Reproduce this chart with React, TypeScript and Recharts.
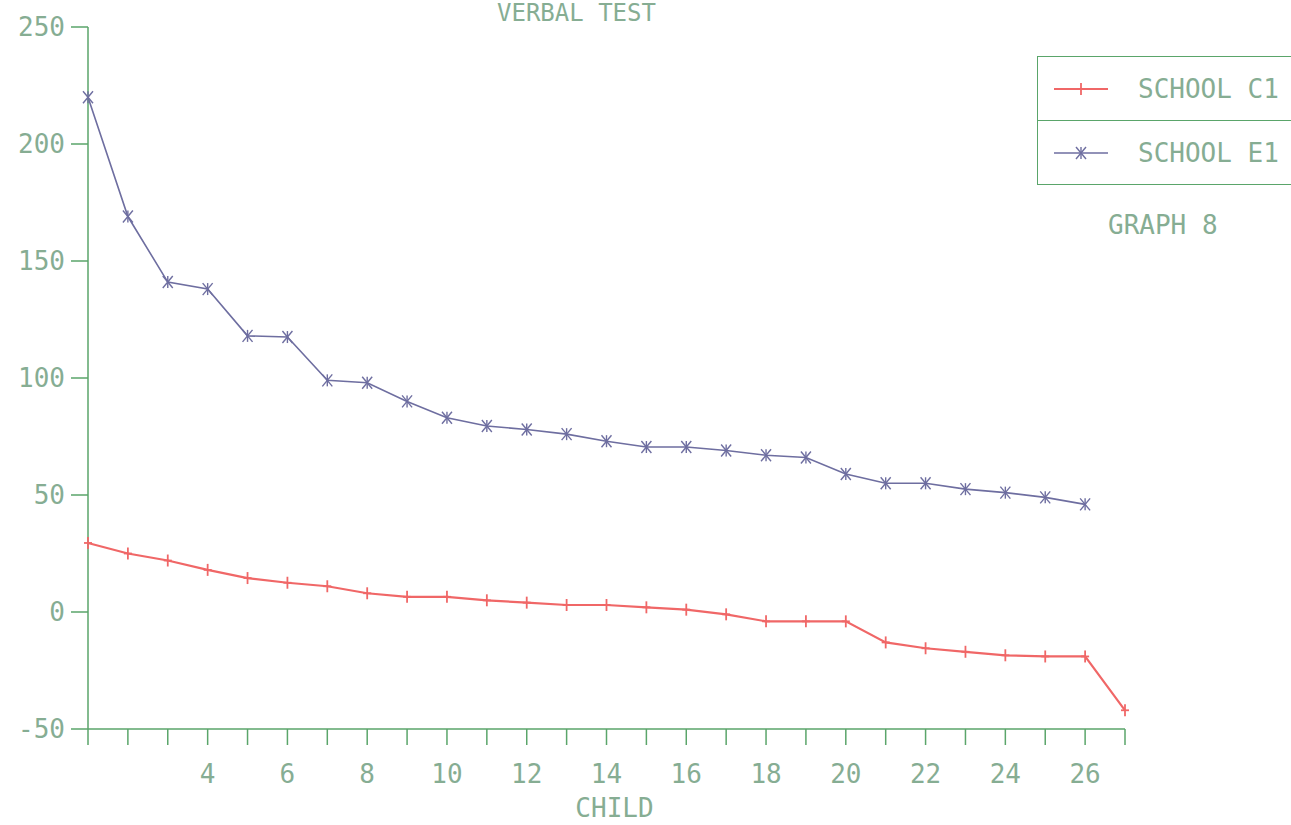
import React from 'react';
import { LineChart, Line, XAxis, YAxis } from 'recharts';

// child number on the x axis
const CHILDREN = [1, 2, 3, 4, 5, 6, 7, 8, 9, 10, 11, 12, 13, 14, 15, 16, 17, 18, 19, 20, 21, 22, 23, 24, 25, 26, 27];
const X_LABELS = [4, 6, 8, 10, 12, 14, 16, 18, 20, 22, 24, 26];
const Y_TICKS = [-50, 0, 50, 100, 150, 200, 250];

const SCHOOL_C1 = [29.5, 25, 22, 18, 14.5, 12.5, 11, 8, 6.5, 6.5, 5, 4, 3, 3, 2, 1, -1, -4, -4, -4, -13, -15.5, -17, -18.5, -19, -19, -42];
const SCHOOL_E1 = [220, 169, 141, 138, 118, 117.5, 99, 98, 90, 83, 79.5, 78, 76, 73, 70.5, 70.5, 69, 67, 66, 59, 55, 55, 52.5, 51, 49, 46, null];

const SERIES = [
  { key: 'c1', name: 'SCHOOL C1', color: '#f06767', width: 2.2 },
  { key: 'e1', name: 'SCHOOL E1', color: '#6e6ea0', width: 1.6 },
];

const data = CHILDREN.map((child, i) => ({ child, c1: SCHOOL_C1[i], e1: SCHOOL_E1[i] }));

const FONT = '"DejaVu Sans Mono", monospace';
const TEXT = '#86ad93';
const AXIS = '#5aa56a';

const PlusDot = (props: any) => {
  const { cx, cy, stroke } = props;
  if (cx == null || cy == null) return null;
  return (
    <g stroke={stroke} strokeWidth={1.8}>
      <line x1={cx} y1={cy - 6} x2={cx} y2={cy + 6} />
      <line x1={cx - 4} y1={cy} x2={cx + 4} y2={cy} />
    </g>
  );
};

const StarDot = (props: any) => {
  const { cx, cy, stroke } = props;
  if (cx == null || cy == null) return null;
  return (
    <g stroke={stroke} strokeWidth={1.4}>
      <line x1={cx} y1={cy - 6} x2={cx} y2={cy + 6} />
      <line x1={cx - 5} y1={cy - 6} x2={cx + 5} y2={cy + 6} />
      <line x1={cx - 5} y1={cy + 6} x2={cx + 5} y2={cy - 6} />
    </g>
  );
};

const XTick = (props: any) => {
  const { x, y, payload } = props;
  if (!X_LABELS.includes(payload.value)) return null;
  return (
    <text x={x} y={y} dy="0.71em" textAnchor="middle" fill={TEXT} fontSize={26} fontFamily={FONT}>
      {payload.value}
    </text>
  );
};

const LegendBox = () => (
  <div
    style={{
      position: 'absolute',
      left: 1037,
      top: 56,
      border: `1.5px solid ${AXIS}`,
      width: 270,
      fontFamily: FONT,
      fontSize: 26,
      color: TEXT,
    }}
  >
    {SERIES.map((s, i) => (
      <div
        key={s.key}
        style={{
          height: 63,
          display: 'flex',
          alignItems: 'center',
          borderTop: i > 0 ? `1.5px solid ${AXIS}` : 'none',
        }}
      >
        <svg width={70} height={20} style={{ marginLeft: 16, marginRight: 14 }}>
          <line x1={0} y1={10} x2={54} y2={10} stroke={s.color} strokeWidth={s.width} />
          {i === 0 ? <PlusDot cx={27} cy={10} stroke={s.color} /> : <StarDot cx={27} cy={10} stroke={s.color} />}
        </svg>
        <span style={{ whiteSpace: 'pre' }}>{s.name}</span>
      </div>
    ))}
  </div>
);

export default function App() {
  return (
    <div style={{ position: 'absolute', left: 0, top: 0, width: 1291, height: 825, overflow: 'hidden', background: '#fff' }}>
      <LineChart width={1291} height={825} data={data} margin={{ top: 27, right: 166, bottom: 0, left: 0 }}>
        <XAxis
          dataKey="child"
          type="number"
          domain={[1, 27]}
          ticks={CHILDREN}
          interval={0}
          height={96}
          stroke={AXIS}
          strokeWidth={1.5}
          tickSize={16}
          tickMargin={20}
          tick={<XTick />}
          label={{ value: 'CHILD', position: 'insideBottom', offset: 8, dx: 8, fill: TEXT, fontSize: 26, fontFamily: FONT }}
        />
        <YAxis
          type="number"
          domain={[-50, 250]}
          ticks={Y_TICKS}
          interval={0}
          width={88}
          stroke={AXIS}
          strokeWidth={1.5}
          tickSize={17}
          tickMargin={6}
          tick={{ fill: TEXT, fontSize: 26, fontFamily: FONT }}
        />
        <Line
          dataKey="c1"
          name="SCHOOL C1"
          stroke={SERIES[0].color}
          strokeWidth={SERIES[0].width}
          dot={<PlusDot />}
          activeDot={false}
          isAnimationActive={false}
        />
        <Line
          dataKey="e1"
          name="SCHOOL E1"
          stroke={SERIES[1].color}
          strokeWidth={SERIES[1].width}
          dot={<StarDot />}
          activeDot={false}
          connectNulls={false}
          isAnimationActive={false}
        />
      </LineChart>
      <LegendBox />
      <div style={{ position: 'absolute', left: 497, top: -1, fontFamily: FONT, fontSize: 24, color: TEXT, whiteSpace: 'pre' }}>
        VERBAL TEST
      </div>
      <div style={{ position: 'absolute', left: 1108, top: 210, fontFamily: FONT, fontSize: 26, color: TEXT, whiteSpace: 'pre' }}>
        GRAPH 8
      </div>
    </div>
  );
}
